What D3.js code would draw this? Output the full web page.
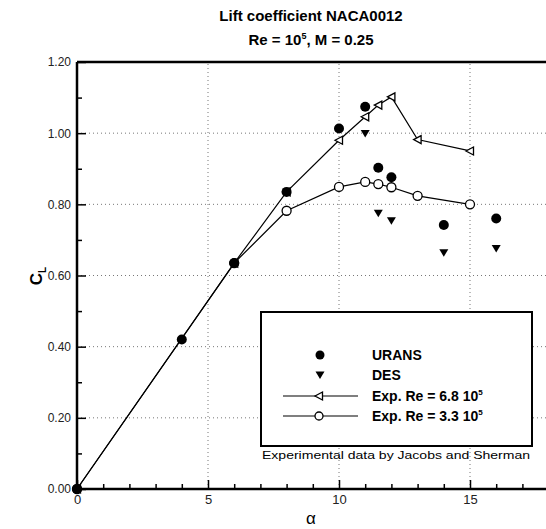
<!DOCTYPE html>
<html><head><meta charset="utf-8">
<script src="https://cdn.jsdelivr.net/npm/d3@7"></script>
<style>body{margin:0;background:#fff;} svg{display:block;}</style>
</head><body>
<script>
// Data
const uransAlpha = [0, 4, 6, 8, 10, 11, 11.5, 12, 14, 16];
const uransCL    = [0, 0.42, 0.635, 0.835, 1.013, 1.074, 0.903, 0.876, 0.742, 0.760];
const desAlpha = [11, 11.5, 12, 14, 16];
const desCL    = [0.999, 0.775, 0.754, 0.664, 0.676];
const exp68Alpha = [0, 6, 8, 10, 11, 11.5, 12, 13, 15];
const exp68CL    = [0, 0.635, 0.835, 0.98, 1.046, 1.079, 1.102, 0.982, 0.950];
const exp33Alpha = [0, 6, 8, 10, 11, 11.5, 12, 13, 15];
const exp33CL    = [0, 0.635, 0.782, 0.849, 0.863, 0.857, 0.848, 0.824, 0.800];
const xTicks = [0, 5, 10, 15];
const yTicks = [0, 0.2, 0.4, 0.6, 0.8, 1.0, 1.2];

const W = 546, H = 529;
const svg = d3.select("body").append("svg").attr("width", W).attr("height", H);
const x = d3.scaleLinear().domain([0, 18]).range([77, 548.6]);
const y = d3.scaleLinear().domain([0, 1.2]).range([489, 62]);
const font = "'Liberation Sans', Arial, sans-serif";

// gridlines
const grid = svg.append("g").attr("stroke", "#777").attr("stroke-width", 1).attr("stroke-dasharray", "1,3");
xTicks.filter(d => d > 0).forEach(d => grid.append("line").attr("x1", x(d)).attr("x2", x(d)).attr("y1", y(0)).attr("y2", y(1.2)));
yTicks.filter(d => d > 0 && d < 1.2).forEach(d => grid.append("line").attr("x1", x(0)).attr("x2", W).attr("y1", y(d)).attr("y2", y(d)));

// axes (ticks pointing inward)
const xAxis = d3.axisTop(x).tickValues(d3.range(0, 19, 1)).tickSize(5).tickFormat("");
const gx = svg.append("g").attr("transform", `translate(0,${y(0)})`).call(xAxis);
gx.selectAll(".tick line").attr("stroke-width", 1.5).filter(d => d % 5 === 0).attr("y2", -9);
gx.select(".domain").remove();
const xLab = d3.axisBottom(x).tickValues(xTicks).tickSize(0).tickPadding(6).tickFormat(d3.format("d"));
const gxl = svg.append("g").attr("transform", `translate(0,${y(0)})`).call(xLab);
gxl.select(".domain").remove();
gxl.selectAll("text").attr("font-family", font).attr("font-size", 13).attr("fill", "#222");

const yAxis = d3.axisRight(y).tickValues(d3.range(0, 12.5, 1).map(d => d / 10)).tickSize(5).tickFormat("");
const gy = svg.append("g").attr("transform", `translate(${x(0)},0)`).call(yAxis);
gy.select(".domain").remove();
gy.selectAll(".tick line").attr("stroke-width", 1.5).filter((d, i) => i % 2 === 0).attr("x2", 9);
const yLab = d3.axisLeft(y).tickValues(yTicks).tickSize(0).tickPadding(6).tickFormat(d3.format(".2f"));
const gyl = svg.append("g").attr("transform", `translate(${x(0)},0)`).call(yLab);
gyl.select(".domain").remove();
gyl.selectAll("text").attr("font-family", font).attr("font-size", 12).attr("fill", "#222");

// frame: left, bottom, top
svg.append("line").attr("x1", x(0)).attr("x2", x(0)).attr("y1", y(1.2)).attr("y2", y(0)).attr("stroke", "#000").attr("stroke-width", 2.5);
svg.append("line").attr("x1", x(0)).attr("x2", W).attr("y1", y(0)).attr("y2", y(0)).attr("stroke", "#000").attr("stroke-width", 2.5);
svg.append("line").attr("x1", x(0)).attr("x2", W).attr("y1", y(1.2)).attr("y2", y(1.2)).attr("stroke", "#000").attr("stroke-width", 2.5);

// lines
const line = d3.line().x(d => x(d[0])).y(d => y(d[1]));
const e68 = exp68Alpha.map((a, i) => [a, exp68CL[i]]);
const e33 = exp33Alpha.map((a, i) => [a, exp33CL[i]]);
svg.append("path").attr("d", line(e68)).attr("fill", "none").attr("stroke", "#000").attr("stroke-width", 1.2);
svg.append("path").attr("d", line(e33)).attr("fill", "none").attr("stroke", "#000").attr("stroke-width", 1.2);

const leftTri = "M-4,0L3.5,-4L3.5,4Z";
const downTri = "M-4.5,-3.5L4.5,-3.5L0,4Z";
svg.append("g").selectAll("path").data(e68).join("path")
  .attr("d", leftTri).attr("transform", d => `translate(${x(d[0])},${y(d[1])})`)
  .attr("fill", "#fff").attr("stroke", "#000").attr("stroke-width", 1.3);
svg.append("g").selectAll("circle").data(e33).join("circle")
  .attr("cx", d => x(d[0])).attr("cy", d => y(d[1])).attr("r", 4.5)
  .attr("fill", "#fff").attr("stroke", "#000").attr("stroke-width", 1.3);
svg.append("g").selectAll("circle").data(uransAlpha.map((a, i) => [a, uransCL[i]])).join("circle")
  .attr("cx", d => x(d[0])).attr("cy", d => y(d[1])).attr("r", 5).attr("fill", "#000");
svg.append("g").selectAll("path").data(desAlpha.map((a, i) => [a, desCL[i]])).join("path")
  .attr("d", downTri).attr("transform", d => `translate(${x(d[0])},${y(d[1])})`).attr("fill", "#000");

// legend
const lg = svg.append("g");
lg.append("rect").attr("x", 261).attr("y", 312).attr("width", 271).attr("height", 134)
  .attr("fill", "#fff").attr("stroke", "#000").attr("stroke-width", 2);
const ly = [355, 375, 396, 416];
lg.append("circle").attr("cx", 320).attr("cy", ly[0]).attr("r", 4.5).attr("fill", "#000");
lg.append("path").attr("d", downTri).attr("transform", `translate(320,${ly[1]})`).attr("fill", "#000");
lg.append("line").attr("x1", 283).attr("x2", 358).attr("y1", ly[2]).attr("y2", ly[2]).attr("stroke", "#000").attr("stroke-width", 1.2);
lg.append("path").attr("d", leftTri).attr("transform", `translate(319,${ly[2]})`).attr("fill", "#fff").attr("stroke", "#000").attr("stroke-width", 1.3);
lg.append("line").attr("x1", 283).attr("x2", 358).attr("y1", ly[3]).attr("y2", ly[3]).attr("stroke", "#000").attr("stroke-width", 1.2);
lg.append("circle").attr("cx", 319).attr("cy", ly[3]).attr("r", 4).attr("fill", "#fff").attr("stroke", "#000").attr("stroke-width", 1.3);
const lt = (yy) => lg.append("text").attr("x", 372).attr("y", yy + 5).attr("font-family", font).attr("font-size", 14).attr("font-weight", "bold");
lt(ly[0]).text("URANS");
lt(ly[1]).text("DES");
const t3 = lt(ly[2]); t3.append("tspan").text("Exp. Re = 6.8 10"); t3.append("tspan").attr("dy", -6).attr("font-size", 8).text("5");
const t4 = lt(ly[3]); t4.append("tspan").text("Exp. Re = 3.3 10"); t4.append("tspan").attr("dy", -6).attr("font-size", 8).text("5");
svg.append("text").attr("x", 396).attr("y", 459).attr("text-anchor", "middle").attr("font-family", font).attr("font-size", 11)
  .attr("textLength", 268).attr("lengthAdjust", "spacingAndGlyphs").text("Experimental data by Jacobs and Sherman");

// titles
svg.append("text").attr("x", 311).attr("y", 21).attr("text-anchor", "middle").attr("font-family", font).attr("font-size", 15).attr("font-weight", "bold").text("Lift coefficient NACA0012");
const st = svg.append("text").attr("x", 311).attr("y", 45).attr("text-anchor", "middle").attr("font-family", font).attr("font-size", 15).attr("font-weight", "bold");
st.append("tspan").text("Re = 10");
st.append("tspan").attr("dy", -6).attr("font-size", 9).text("5");
st.append("tspan").attr("dy", 6).text(", M = 0.25");

// axis labels
svg.append("text").attr("x", 311).attr("y", 524).attr("text-anchor", "middle").attr("font-family", font).attr("font-size", 17).text("α");
const yl = svg.append("text").attr("transform", "translate(42,276) rotate(-90)").attr("text-anchor", "middle").attr("font-family", font).attr("font-size", 17).attr("font-weight", "bold");
yl.append("tspan").text("C");
yl.append("tspan").attr("dy", 4).attr("font-size", 10).text("L");
</script>
</body></html>
